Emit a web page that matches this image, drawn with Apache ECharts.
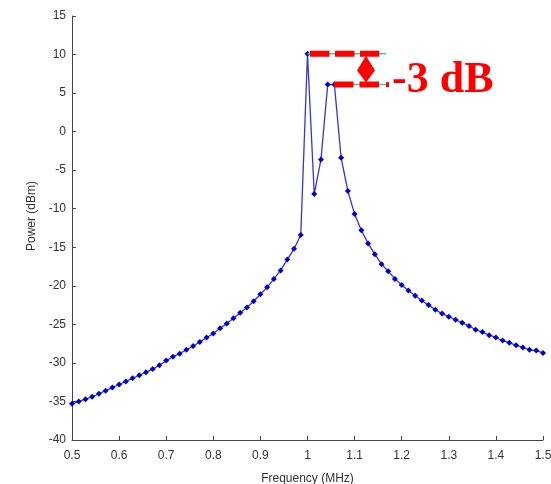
<!DOCTYPE html>
<html><head><meta charset="utf-8">
<script src="https://cdn.jsdelivr.net/npm/echarts@6/dist/echarts.min.js"></script>
<style>html,body{margin:0;padding:0;background:#fff}#c{width:551px;height:484px}</style>
</head><body><div id="c"></div>
<script>
var freq = [0.5,0.5143,0.5286,0.5429,0.5571,0.5714,0.5857,0.6,0.6143,0.6286,0.6429,0.6571,0.6714,0.6857,0.7,0.7143,0.7286,0.7429,0.7571,0.7714,0.7857,0.8,0.8143,0.8286,0.8429,0.8571,0.8714,0.8857,0.9,0.9143,0.9286,0.9429,0.9571,0.9714,0.9857,1.0,1.0143,1.0286,1.0429,1.0571,1.0714,1.0857,1.1,1.1143,1.1286,1.1429,1.1571,1.1714,1.1857,1.2,1.2143,1.2286,1.2429,1.2571,1.2714,1.2857,1.3,1.3143,1.3286,1.3429,1.3571,1.3714,1.3857,1.4,1.4143,1.4286,1.4429,1.4571,1.4714,1.4857,1.5];
var power = [-35.3,-35.0,-34.7,-34.4,-34.0,-33.6,-33.2,-32.8,-32.4,-32.0,-31.6,-31.2,-30.8,-30.3,-29.7,-29.2,-28.8,-28.3,-27.8,-27.3,-26.7,-26.2,-25.5,-24.9,-24.2,-23.5,-22.8,-22.0,-21.1,-20.2,-19.1,-18.0,-16.6,-15.2,-13.4,10.1,-8.1,-3.6,6.1,6.1,-3.4,-7.7,-10.7,-12.8,-14.5,-15.9,-17.2,-18.1,-19.1,-19.9,-20.6,-21.3,-21.9,-22.5,-23.1,-23.6,-24.0,-24.4,-24.8,-25.2,-25.7,-26.0,-26.4,-26.7,-27.1,-27.4,-27.7,-28.0,-28.3,-28.4,-28.7];
// annotation (-3 dB marker)
var levelTop = 10.1, levelLow = 6.1;
var redTopX = [1.0053, 1.1524];
var redLowX = [1.0563, 1.1524];
var tealTopX = [1.0, 1.1667];
var tealLowX = [1.0571, 1.1667];
var arrowX = 1.1242;
var labelText = '-3 dB';

var chart = echarts.init(document.getElementById('c'), null, {renderer:'canvas'});
var axisCol = '#444';
var lbl = {color:'#333', fontFamily:'Liberation Sans, Arial, sans-serif', fontSize:12};
var pts = freq.map(function(f,i){return [f, power[i]];});
chart.setOption({
  animation:false,
  backgroundColor:'#fff',
  grid:{left:72, right:8, top:16, bottom:44, containLabel:false, outerBoundsMode:'none'},
  xAxis:{type:'value', min:0.5, max:1.5, interval:0.1,
    name:'Frequency (MHz)', nameLocation:'middle', nameGap:33,
    nameTextStyle:{color:'#333', fontFamily:'Liberation Sans, Arial, sans-serif', fontSize:12},
    axisLine:{show:true, onZero:false, lineStyle:{color:axisCol, width:1}},
    axisTick:{show:true, inside:true, length:4, lineStyle:{color:axisCol}},
    axisLabel:Object.assign({margin:10}, lbl),
    splitLine:{show:false}},
  yAxis:{type:'value', min:-40, max:15, interval:5,
    name:'Power (dBm)', nameLocation:'middle', nameGap:34,
    nameTextStyle:{color:'#333', fontFamily:'Liberation Sans, Arial, sans-serif', fontSize:12, padding:[0,0,0,24]},
    axisLine:{show:true, onZero:false, lineStyle:{color:axisCol, width:1}},
    axisTick:{show:true, inside:true, length:4, lineStyle:{color:axisCol}},
    axisLabel:Object.assign({margin:6}, lbl),
    splitLine:{show:false}},
  series:[
    {type:'line', data:pts, symbol:'diamond', symbolSize:6, showSymbol:true,
     itemStyle:{color:'#0000cc'}, lineStyle:{color:'#3535d8', width:1.3}, z:3},
    {type:'line', data:[[tealTopX[0],levelTop],[tealTopX[1],levelTop]], symbol:'none',
     lineStyle:{color:'#3ccfa8', width:1.5}, z:4},
    {type:'line', data:[[tealLowX[0],levelLow],[tealLowX[1],levelLow]], symbol:'none',
     lineStyle:{color:'#3ccfa8', width:1.5}, z:4},
    {type:'line', data:[[redTopX[0],levelTop],[redTopX[1],levelTop]], symbol:'none',
     lineStyle:{color:'#ff0000', width:6, type:[19.5,5.5], cap:'butt'}, z:5},
    {type:'line', data:[[redLowX[0],levelLow],[redLowX[1],levelLow]], symbol:'none',
     lineStyle:{color:'#ff0000', width:6, type:[19.5,6], cap:'butt'}, z:5}
  ]
});
function px(x,y){return chart.convertToPixel({gridIndex:0},[x,y]);}
var pT = px(arrowX, levelTop), pL = px(arrowX, levelLow);
var topY = pT[1]+2, botY = pL[1]-2, midY = topY + (botY-topY)*0.55;
var endP = px(tealTopX[1], levelLow);
chart.setOption({graphic:[
  {type:'polygon', shape:{points:[[pT[0],topY],[pT[0]+9,midY],[pT[0],botY],[pT[0]-9,midY]]}, style:{fill:'#ff0000'}, z:10},
  {type:'rect', shape:{x:endP[0], y:endP[1]-2.5, width:3, height:5}, style:{fill:'#ff0000'}, z:10},
  {type:'text', x:endP[0]+6, y:endP[1]+18, style:{text:labelText, fill:'#ff0000',
    font:'bold 44px "Liberation Serif", "Times New Roman", serif', textVerticalAlign:'bottom', textAlign:'left'}, z:10}
]});
</script></body></html>
